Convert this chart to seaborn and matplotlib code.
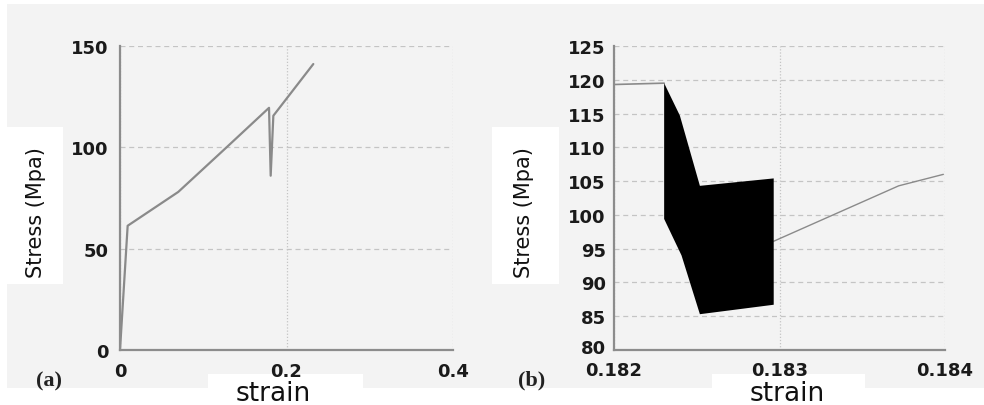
import numpy as np
import matplotlib
matplotlib.use("Agg")
import matplotlib.pyplot as plt
import matplotlib.transforms as mtransforms
from matplotlib.patches import Rectangle
from matplotlib import font_manager
import seaborn as sns
import pandas as pd

# ---------------- data ----------------
# panel (a): full stress-strain curve
strain_a = [0.0, 0.006, 0.0092, 0.07, 0.128, 0.179, 0.181, 0.1842, 0.2322]
stress_a = [0.0, 40.0, 61.3, 78.0, 100.0, 119.5, 86.0, 115.6, 141.1]

# panel (b): zoom around the drop
strain_b_left = [0.182, 0.18215, 0.182303]
stress_b_left = [119.3, 119.4, 119.5]
strain_b_right = [0.182965, 0.18372, 0.18399]
stress_b_right = [96.1, 104.3, 106.0]

# envelope of the dense oscillation (filled black region)
env_upper_x = [0.182303, 0.182398, 0.182519, 0.182965]
env_upper_y = [119.5, 114.7, 104.3, 105.4]
env_lower_x = [0.182303, 0.182408, 0.182519, 0.182965]
env_lower_y = [99.4, 94.0, 85.3, 86.7]

yticks_a = [0, 50, 100, 150]
xticks_a = [0, 0.2, 0.4]
xtick_labels_a = ["0", "0.2", "0.4"]
yticks_b = [80, 85, 90, 95, 100, 105, 110, 115, 120, 125]
xticks_b = [0.182, 0.183, 0.184]
xtick_labels_b = ["0.182", "0.183", "0.184"]

# ---------------- style ----------------
sns.set_style("white")
plt.rcParams['font.family'] = ['DejaVu Sans']

names = {f.name for f in font_manager.fontManager.ttflist}
if "Liberation Sans Narrow" in names:
    narrow_kw = dict(family="Liberation Sans Narrow", fontsize=19)
else:
    narrow_kw = dict(family="DejaVu Sans", fontsize=15)

BG = "#f3f3f3"
LINE = "#8a8a8a"
GRID = "#c4c4c4"
SPINE = "#8c8c8c"

W, H = 984, 406
fig = plt.figure(figsize=(W / 100, H / 100), dpi=100)
fig.patch.set_facecolor("white")

def fx(px):
    return px / W

def fy(py):
    return 1 - py / H

# gray background panel
fig.patches.append(Rectangle((fx(7), fy(389)), fx(977), (389 - 5) / H,
                             transform=fig.transFigure, facecolor=BG,
                             edgecolor="none", zorder=-10))

ax_a = fig.add_axes([fx(120), fy(351), fx(333), (351 - 47) / H])
ax_b = fig.add_axes([fx(614), fy(351), fx(331), (351 - 47) / H])

df_a = pd.DataFrame({"strain": strain_a, "stress": stress_a})
sns.lineplot(data=df_a, x="strain", y="stress", ax=ax_a, sort=False,
             estimator=None, color=LINE, linewidth=1.6)

df_bl = pd.DataFrame({"strain": strain_b_left, "stress": stress_b_left})
df_br = pd.DataFrame({"strain": strain_b_right, "stress": stress_b_right})
sns.lineplot(data=df_bl, x="strain", y="stress", ax=ax_b, sort=False,
             estimator=None, color=LINE, linewidth=1.2)
sns.lineplot(data=df_br, x="strain", y="stress", ax=ax_b, sort=False,
             estimator=None, color=LINE, linewidth=1.0)

poly_x = env_upper_x + env_lower_x[::-1]
poly_y = env_upper_y + env_lower_y[::-1]
ax_b.fill(poly_x, poly_y, color="black", linewidth=0, zorder=3)

for ax, xt, yt, xl, yl in [
    (ax_a, xticks_a, yticks_a, (0, 0.4), (0, 150)),
    (ax_b, xticks_b, yticks_b, (0.182, 0.184), (80, 125)),
]:
    ax.set_facecolor(BG)
    ax.set_xlim(*xl)
    ax.set_ylim(*yl)
    ax.set_xticks(xt)
    ax.set_yticks(yt)
    ax.set_xlabel("")
    ax.set_ylabel("")
    ax.grid(True, color=GRID, linestyle=(0, (4, 3)), linewidth=0.9)
    ax.xaxis.grid(True, linestyle=(0, (1, 1.5)))
    for s in ["top", "right"]:
        ax.spines[s].set_visible(False)
    for s in ["left", "bottom"]:
        ax.spines[s].set_color(SPINE)
        ax.spines[s].set_linewidth(1.6)
    ax.tick_params(length=0, labelsize=13, colors="#1a1a1a")

ax_a.set_xticklabels(xtick_labels_a)
ax_a.set_yticklabels([str(v) for v in yticks_a])
ax_a.tick_params(axis="x", pad=9)
ax_a.tick_params(axis="y", pad=8)
ax_b.set_xticklabels(xtick_labels_b)
ax_b.set_yticklabels([str(v) for v in yticks_b])
ax_b.tick_params(axis="x", pad=8)
ax_b.tick_params(axis="y", pad=6)
for lab in ax_a.get_xticklabels() + ax_a.get_yticklabels() + \
        ax_b.get_xticklabels() + ax_b.get_yticklabels():
    lab.set_fontweight("bold")

# nudge the lowest y label of panel b up a little (as in the reference)
lab80 = ax_b.yaxis.get_majorticklabels()[0]
shift = mtransforms.ScaledTranslation(0, 3 / 72, fig.dpi_scale_trans)
for t in ax_b.yaxis.get_major_ticks()[:1]:
    t.label1.set_transform(t.label1.get_transform() + shift)

# white boxes behind axis titles
for x0, x1, y0, y1 in [(7, 63, 128, 285), (492, 559, 128, 285),
                       (208, 363, 375, 406), (712, 865, 375, 406)]:
    fig.patches.append(Rectangle((fx(x0), fy(y1)), fx(x1 - x0), (y1 - y0) / H,
                                 transform=fig.transFigure, facecolor="white",
                                 edgecolor="none", zorder=-5))

for cx in [36, 524]:
    fig.text(fx(cx), fy(213), "Stress (Mpa)", rotation=90, ha="center",
             va="center", color="#111111", **narrow_kw)
for cx in [273, 787]:
    fig.text(fx(cx), fy(394), "strain", ha="center", va="center",
             fontsize=19, color="#111111")

fig.text(fx(49), fy(381), "(a)", ha="center", va="center", fontsize=16,
         family="Liberation Serif", fontweight="bold", color="#222222")
fig.text(fx(532), fy(380), "(b)", ha="center", va="center", fontsize=16,
         family="Liberation Serif", fontweight="bold", color="#222222")

fig.savefig("out.png", dpi=100, facecolor="white")
